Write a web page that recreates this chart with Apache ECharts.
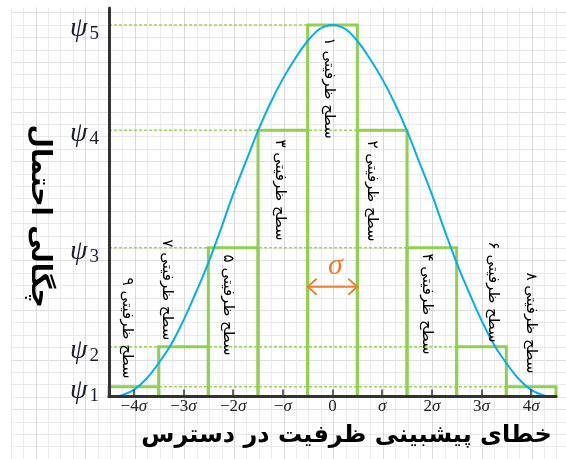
<!DOCTYPE html>
<html><head><meta charset="utf-8">
<script src="https://cdn.jsdelivr.net/npm/echarts@6/dist/echarts.min.js"></script>
<style>html,body{margin:0;padding:0;background:#fff}#c{width:566px;height:459px}</style>
</head><body><div id="c"></div>
<script>
// ---- data ----
const xTickValues = [-4, -3, -2, -1, 0, 1, 2, 3, 4];
const xTickLabels = ['−4σ', '−3σ', '−2σ', '−σ', '0', 'σ', '2σ', '3σ', '4σ'];
const psiNames = ['1', '2', '3', '4', '5'];
const psiValues = [0.0264, 0.134, 0.4005, 0.717, 1.0];
const barCenters = [-4, -3, -2, -1, 0, 1, 2, 3, 4];
const barHeights = [0.0264, 0.134, 0.4005, 0.717, 1.0, 0.717, 0.4005, 0.134, 0.0264];
const barLabels = ['سطح ظرفیتی ۹', 'سطح ظرفیتی ۷', 'سطح ظرفیتی ۵', 'سطح ظرفیتی ۳', 'سطح ظرفیتی ۱',
                   'سطح ظرفیتی ۲', 'سطح ظرفیتی ۴', 'سطح ظرفیتی ۶', 'سطح ظرفیتی ۸'];
const curveX = [-4.35, -4.25, -4, -3.75, -3.5, -3.25, -3, -2.75, -2.5, -2.25, -2, -1.75, -1.5, -1.25, -1, -0.75, -0.5, -0.25, 0,
                0.25, 0.5, 0.75, 1, 1.25, 1.5, 1.75, 2, 2.25, 2.5, 2.75, 3, 3.25, 3.5, 3.75, 4, 4.25, 4.35];
const curveY = [0, 0.003, 0.018, 0.047, 0.09, 0.14, 0.205, 0.28, 0.36, 0.45, 0.545, 0.63, 0.715, 0.79, 0.855, 0.91, 0.957, 0.99, 1.0,
                0.99, 0.957, 0.91, 0.855, 0.79, 0.715, 0.63, 0.545, 0.45, 0.36, 0.28, 0.205, 0.14, 0.09, 0.047, 0.018, 0.003, 0];
const yTitle = 'چگالی احتمال';
const xTitle = 'خطای پیشبینی ظرفیت در دسترس';
const sigmaMark = 'σ';

// ---- layout helpers (annotation placement) ----
const labelSpots = [[-4.13, 0.184], [-3.34, 0.287], [-2.1, 0.246], [-1.05, 0.556], [-0.08, 0.83],
                    [0.8, 0.553], [1.9, 0.249], [3.23, 0.281], [4.0, 0.198]];
const GREEN = '#92d050';
const serif = '"Liberation Serif", "DejaVu Serif", serif';
const arabic = '"DejaVu Sans", sans-serif';

// dotted level lines: from the axis to the right bar of that level
const levelLines = psiValues.map(v => {
  let right = -Infinity;
  barCenters.forEach((c, i) => { if (barHeights[i] === v) right = Math.max(right, c + 0.5); });
  return [-4.5, right, v];
});

const chart = echarts.init(document.getElementById('c'), null, {renderer: 'canvas'});
const gridColorsX = ['#ebebeb', '#ebebeb', '#d9d9d9', '#ebebeb'];
const gridColorsY = ['#ebebeb', '#dfdfdf', '#ebebeb', '#ebebeb'];

chart.setOption({
  animation: false,
  backgroundColor: '#fff',
  graphic: [{type: 'rect', z: 1, shape: {x: 0, y: 0, width: 566, height: 7.5}, style: {fill: '#fff'}}],
  grid: [
    {left: 109, right: 10, top: 8, bottom: 62.5, containLabel: false, outerBoundsMode: 'none'},
    {left: 11, right: -3, top: 0.3, bottom: 0, containLabel: false, outerBoundsMode: 'none'}
  ],
  xAxis: [
    {
      type: 'value', gridIndex: 0, min: -4.5, max: 4.5, z: 6,
      axisLine: {onZero: false, lineStyle: {color: '#333', width: 3}},
      axisTick: {show: true, inside: true, length: 7, customValues: xTickValues, lineStyle: {color: '#333', width: 1.5}},
      axisLabel: {
        customValues: xTickValues, margin: 2,
        formatter: v => {
          const t = xTickLabels[xTickValues.indexOf(Math.round(v))] || '';
          return t.split('σ').map(s => s ? '{n|' + s + '}' : '').join('{s|σ}');
        },
        rich: {
          n: {fontFamily: serif, fontSize: 17, color: '#222'},
          s: {fontFamily: serif, fontSize: 17, fontStyle: 'italic', color: '#222'}
        }
      },
      splitLine: {show: false},
      name: xTitle, nameLocation: 'middle', nameGap: 27,
      nameTextStyle: {fontFamily: arabic, fontWeight: 'bold', fontSize: 24, color: '#000', padding: [0, 0, 0, 28]}
    },
    {
      type: 'value', gridIndex: 1, min: 0, max: 45, interval: 1,
      axisLine: {show: false}, axisTick: {show: false}, axisLabel: {show: false},
      splitLine: {show: true, lineStyle: {color: gridColorsX, width: 1}}
    }
  ],
  yAxis: [
    {
      type: 'value', gridIndex: 0, min: 0, max: 1.0458, z: 6,
      axisLine: {show: true, onZero: false, lineStyle: {color: '#333', width: 3}},
      axisTick: {show: false},
      splitLine: {show: false},
      axisLabel: {
        customValues: psiValues, margin: 10, padding: [18, 0, 0, 0],
        formatter: v => {
          let best = 0;
          psiValues.forEach((p, i) => { if (Math.abs(p - v) < Math.abs(psiValues[best] - v)) best = i; });
          return '{p|ψ}{s|' + psiNames[best] + '}';
        },
        rich: {
          p: {fontFamily: serif, fontStyle: 'italic', fontSize: 28, color: '#1c1c30', padding: [0, 2, 11, 0]},
          s: {fontFamily: serif, fontSize: 19, color: '#1c1c30'}
        }
      },
      name: yTitle, nameLocation: 'middle', nameRotate: -90, nameGap: 56,
      nameTextStyle: {fontFamily: arabic, fontWeight: 'bold', fontSize: 27, color: '#000', padding: [0, 0, 0, 28]}
    },
    {
      type: 'value', gridIndex: 1, min: 0, max: 37, interval: 1, inverse: true,
      axisLine: {show: false}, axisTick: {show: false}, axisLabel: {show: false},
      splitLine: {show: true, lineStyle: {color: gridColorsY, width: 1}}
    }
  ],
  series: [
    {
      type: 'custom', xAxisIndex: 0, yAxisIndex: 0, z: 2, silent: true,
      data: levelLines,
      renderItem: (params, api) => {
        const a = api.coord([api.value(0), api.value(2)]);
        const b = api.coord([api.value(1), api.value(2)]);
        return {type: 'line', shape: {x1: a[0], y1: a[1], x2: b[0], y2: b[1]},
                style: {stroke: GREEN, lineWidth: 1.5, lineDash: [3, 2], opacity: 0.9}};
      }
    },
    {
      type: 'custom', xAxisIndex: 0, yAxisIndex: 0, z: 3, silent: true,
      data: barCenters.map((c, i) => [c, barHeights[i]]),
      renderItem: (params, api) => {
        const c = api.value(0), h = api.value(1);
        const p0 = api.coord([c - 0.5, h]);
        const p1 = api.coord([c + 0.5, 0]);
        return {type: 'rect', shape: {x: p0[0], y: p0[1], width: p1[0] - p0[0], height: p1[1] - p0[1]},
                style: {fill: 'none', stroke: GREEN, lineWidth: 3}};
      }
    },
    {
      type: 'line', xAxisIndex: 0, yAxisIndex: 0, z: 4, silent: true,
      data: curveX.map((x, i) => [x, curveY[i]]),
      smooth: 0.4, symbol: 'none',
      lineStyle: {color: '#00b0f0', width: 2}
    },
    {
      type: 'custom', xAxisIndex: 0, yAxisIndex: 0, z: 5, silent: true,
      data: labelSpots,
      renderItem: (params, api) => {
        const p = api.coord([api.value(0), api.value(1)]);
        return {type: 'text', x: p[0], y: p[1], rotation: -Math.PI / 2,
                style: {text: barLabels[params.dataIndex], fill: '#000', fontFamily: arabic, fontSize: 15,
                        align: 'center', verticalAlign: 'middle'}};
      }
    },
    {
      type: 'custom', xAxisIndex: 0, yAxisIndex: 0, z: 5, silent: true,
      data: [[-0.5, 0.5, 0.2955]],
      renderItem: (params, api) => {
        const a = api.coord([api.value(0), api.value(2)]);
        const b = api.coord([api.value(1), api.value(2)]);
        const ORANGE = '#ed7d31';
        const st = {stroke: ORANGE, lineWidth: 1.8, fill: 'none'};
        const hw = 9, hh = 8;
        const mid = api.coord([(api.value(0) + api.value(1)) / 2, api.value(2)]);
        return {type: 'group', children: [
          {type: 'line', shape: {x1: a[0], y1: a[1], x2: b[0], y2: b[1]}, style: st},
          {type: 'polyline', shape: {points: [[a[0] + hw, a[1] - hh], [a[0], a[1]], [a[0] + hw, a[1] + hh]]}, style: st},
          {type: 'polyline', shape: {points: [[b[0] - hw, b[1] - hh], [b[0], b[1]], [b[0] - hw, b[1] + hh]]}, style: st},
          {type: 'text', x: mid[0] + 3, y: mid[1] - 21,
           style: {text: sigmaMark, fill: ORANGE, fontFamily: serif, fontStyle: 'italic', fontSize: 30,
                   align: 'center', verticalAlign: 'middle'}}
        ]};
      }
    }
  ]
});
</script></body></html>
